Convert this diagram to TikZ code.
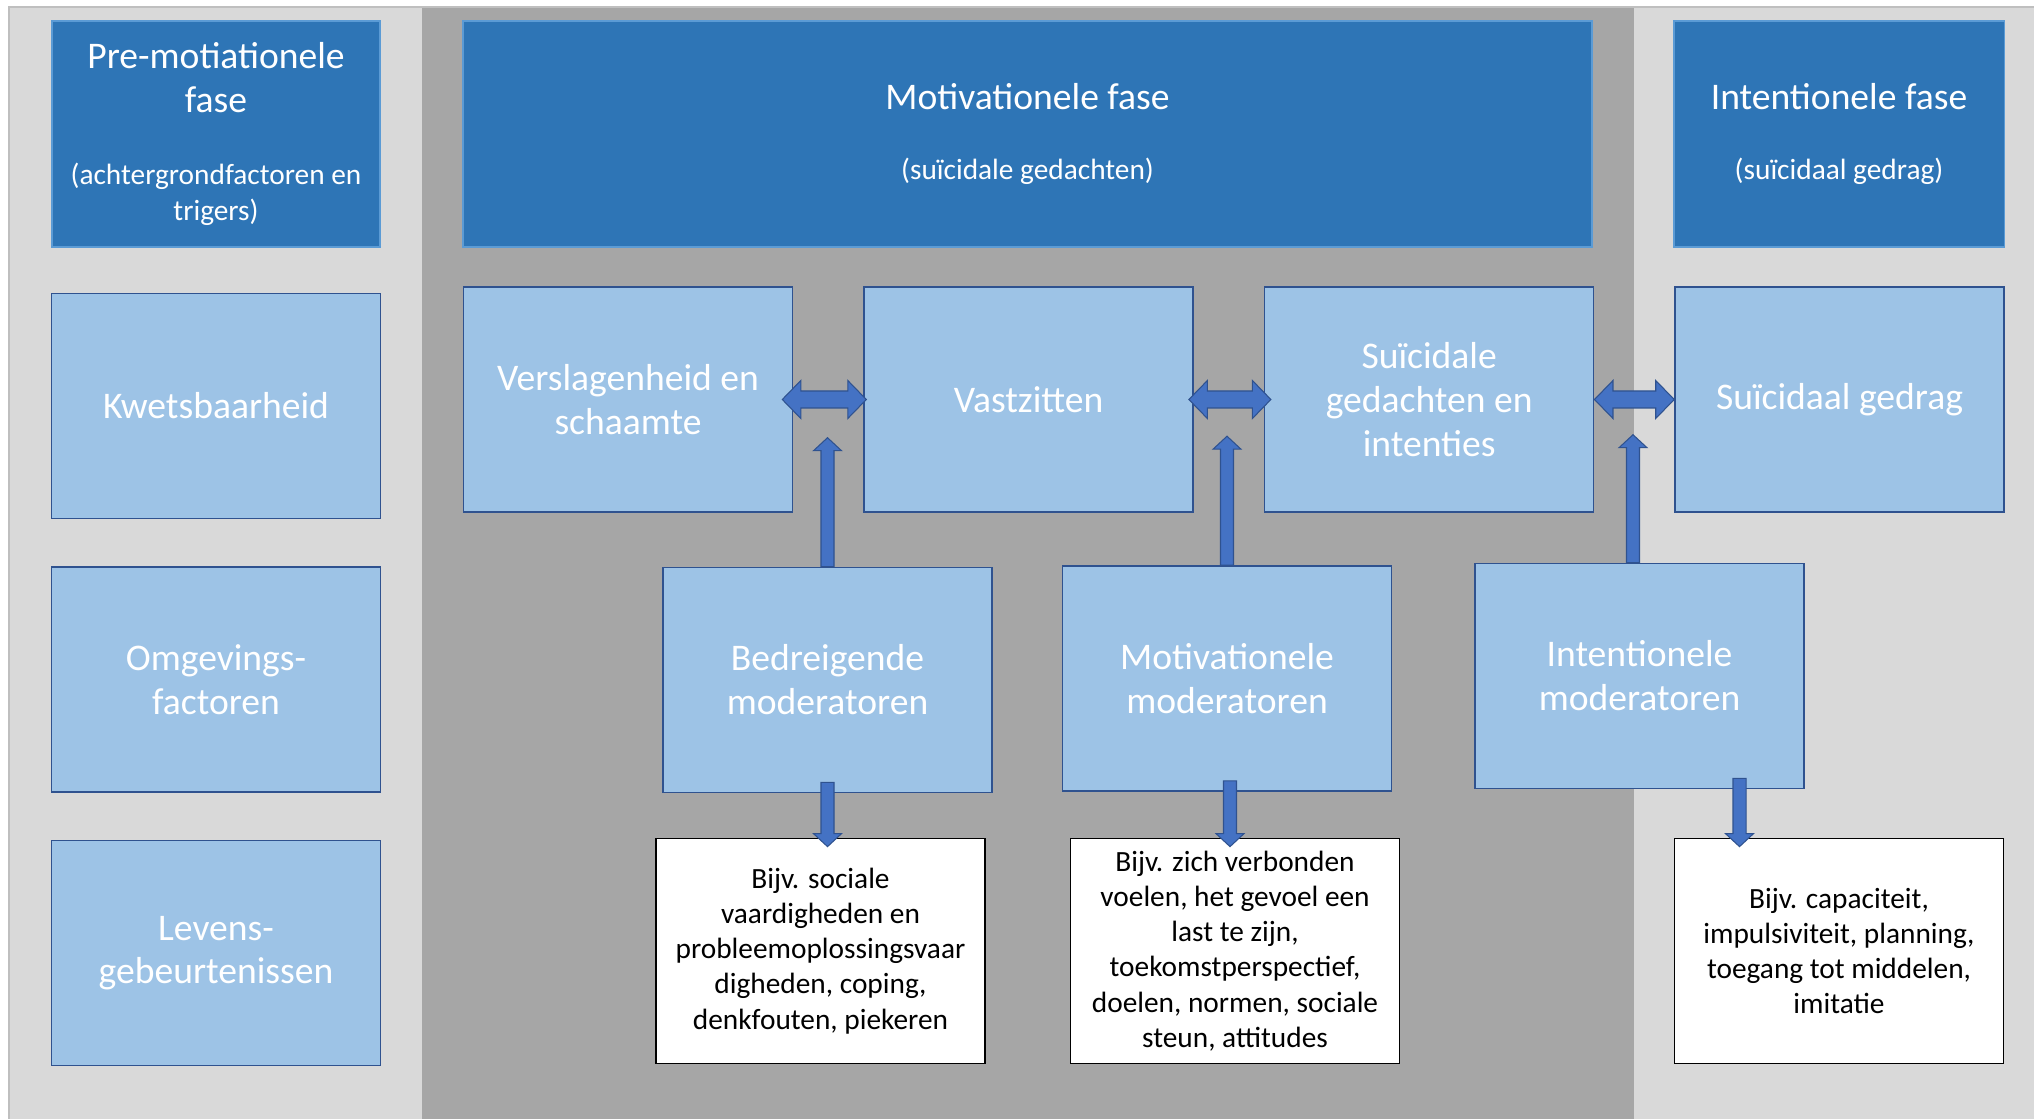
\documentclass[tikz,border=0pt]{standalone}
\usepackage{fontspec}
\setmainfont{Carlito}
\definecolor{phasecolor}{RGB}{46,117,182}
\definecolor{phaseline}{RGB}{91,155,213}
\definecolor{factorcolor}{RGB}{157,195,230}
\definecolor{factorline}{RGB}{47,82,143}
\definecolor{arrowcolor}{RGB}{68,114,196}
\definecolor{lightpanel}{RGB}{217,217,217}
\definecolor{darkpanel}{RGB}{166,166,166}
\definecolor{panelline}{RGB}{191,191,191}
\newcommand{\phasebig}{\fontsize{21.4}{25}\selectfont}
\newcommand{\phasesmall}{\fontsize{16.7}{20}\selectfont}
\usetikzlibrary{calc, positioning}

\begin{document}
\begin{tikzpicture}[
    phase/.style={rectangle, draw=phaseline, line width=0.6pt, fill=phasecolor, text=white, align=center, font=\phasebig, minimum height=4.52cm},
    factor/.style={rectangle, draw=factorline, line width=0.9pt, fill=factorcolor, text=white, align=center, font=\phasebig, minimum width=6.58cm, minimum height=4.5cm},
    note/.style={rectangle, draw=black, line width=1pt, fill=white, text=black, align=center, font=\phasesmall, minimum width=6.58cm, minimum height=4.5cm},
    bigarrow/.style={draw=factorline, fill=arrowcolor, line width=0.6pt, to path={let \p1=(\tikztostart), \p2=(\tikztotarget), \p3=($(\tikztotarget)!0.26cm!(\tikztostart)$) in (\x1-0.13cm,\y1) -- (\x1-0.13cm,\y3) -- (\x1-0.28cm,\y3) -- (\x1,\y2) -- (\x1+0.28cm,\y3) -- (\x1+0.13cm,\y3) -- (\x1+0.13cm,\y1) -- cycle}},
    duoarrow/.style={draw=factorline, fill=arrowcolor, line width=0.6pt, to path={let \p1=(\tikztostart), \p2=(\tikztotarget) in (\x1,\y1) -- (\x1+0.37cm,\y1+0.38cm) -- (\x1+0.37cm,\y1+0.17cm) -- (\x2-0.37cm,\y1+0.17cm) -- (\x2-0.37cm,\y1+0.38cm) -- (\x2,\y1) -- (\x2-0.37cm,\y1-0.38cm) -- (\x2-0.37cm,\y1-0.17cm) -- (\x1+0.37cm,\y1-0.17cm) -- (\x1+0.37cm,\y1-0.38cm) -- cycle}}
]
    \useasboundingbox (0,0) rectangle (40.68,-22.38);
    \fill[lightpanel] (0.18,-0.14) rectangle (8.44,-22.38);
    \fill[darkpanel] (8.44,-0.14) rectangle (32.68,-22.38);
    \fill[lightpanel] (32.68,-0.14) rectangle (40.68,-22.38);
    \draw[panelline, line width=0.8pt] (0.18,-22.38) -- (0.18,-0.14) -- (40.68,-0.14);

    \node[phase, minimum width=6.56cm] (pre) at (4.32,-2.68) {Pre-motiationele\\fase\\[16pt]\phasesmall (achtergrondfactoren en\\[-5pt]\phasesmall trigers)};
    \node[phase, minimum width=22.58cm] (mot) at (20.55,-2.68) {Motivationele fase\\[15pt]\phasesmall (suïcidale gedachten)};
    \node[phase, minimum width=6.6cm] (int) at (36.78,-2.68) {Intentionele fase\\[15pt]\phasesmall (suïcidaal gedrag)};

    \node[factor] (kwets) at (4.32,-8.12) {Kwetsbaarheid};
    \node[factor, below=0.94cm of kwets] (omgev) {Omgevings-\\factoren};
    \node[factor, below=0.94cm of omgev] (levens) {Levens-\\gebeurtenissen};

    \node[factor] (versl) at (12.56,-7.99) {Verslagenheid en\\schaamte};
    \node[factor, right=1.4cm of versl] (vast) {Vastzitten};
    \node[factor, right=1.4cm of vast] (sui) {Suïcidale\\gedachten en\\intenties};
    \node[factor] (gedrag) at (36.79,-7.99) {Suïcidaal gedrag};

    \node[factor] (bedr) at (16.55,-13.6) {Bedreigende\\moderatoren};
    \node[factor] (motmod) at (24.54,-13.57) {Motivationele\\moderatoren};
    \node[factor] (intmod) at (32.79,-13.52) {Intentionele\\moderatoren};

    \node[note] (ex1) at (16.41,-19.02) {Bijv. sociale\\vaardigheden en\\probleemoplossingsvaar\\digheden, coping,\\denkfouten, piekeren};
    \node[note] (ex2) at (24.7,-19.02) {Bijv. zich verbonden\\voelen, het gevoel een\\last te zijn,\\toekomstperspectief,\\doelen, normen, sociale\\steun, attitudes};
    \node[note] (ex3) at (36.78,-19.02) {Bijv. capaciteit,\\impulsiviteit, planning,\\toegang tot middelen,\\imitatie};

    \coordinate[above=2.58cm of bedr.north] (bedrtip);
    \coordinate[above=2.58cm of motmod.north] (motmodtip);
    \coordinate (intmodfoot) at ([xshift=-0.13cm]intmod.north);
    \coordinate[above=2.56cm of intmodfoot] (intmodtip);

    \coordinate (bedrbase) at ([yshift=0.22cm]bedr.south);
    \coordinate (motmodbase) at ([xshift=0.06cm, yshift=0.22cm]motmod.south);
    \coordinate (intmodbase) at ([xshift=2cm, yshift=0.22cm]intmod.south);
    \coordinate (ex1top) at ($(bedrbase |- ex1.north)+(0,-0.18)$);
    \coordinate (ex2top) at ($(motmodbase |- ex2.north)+(0,-0.18)$);
    \coordinate (ex3top) at ($(intmodbase |- ex3.north)+(0,-0.18)$);

    \draw[duoarrow] ([xshift=-0.22cm]versl.east) to ([xshift=0.06cm]vast.west);
    \draw[duoarrow] ([xshift=-0.1cm]vast.east) to ([xshift=0.14cm]sui.west);
    \draw[duoarrow] (sui.east) to (gedrag.west);

    \draw[bigarrow] (bedr.north) to (bedrtip);
    \draw[bigarrow] (motmod.north) to (motmodtip);
    \draw[bigarrow] (intmodfoot) to (intmodtip);

    \draw[bigarrow] (bedrbase) to (ex1top);
    \draw[bigarrow] (motmodbase) to (ex2top);
    \draw[bigarrow] (intmodbase) to (ex3top);
\end{tikzpicture}
\end{document}
